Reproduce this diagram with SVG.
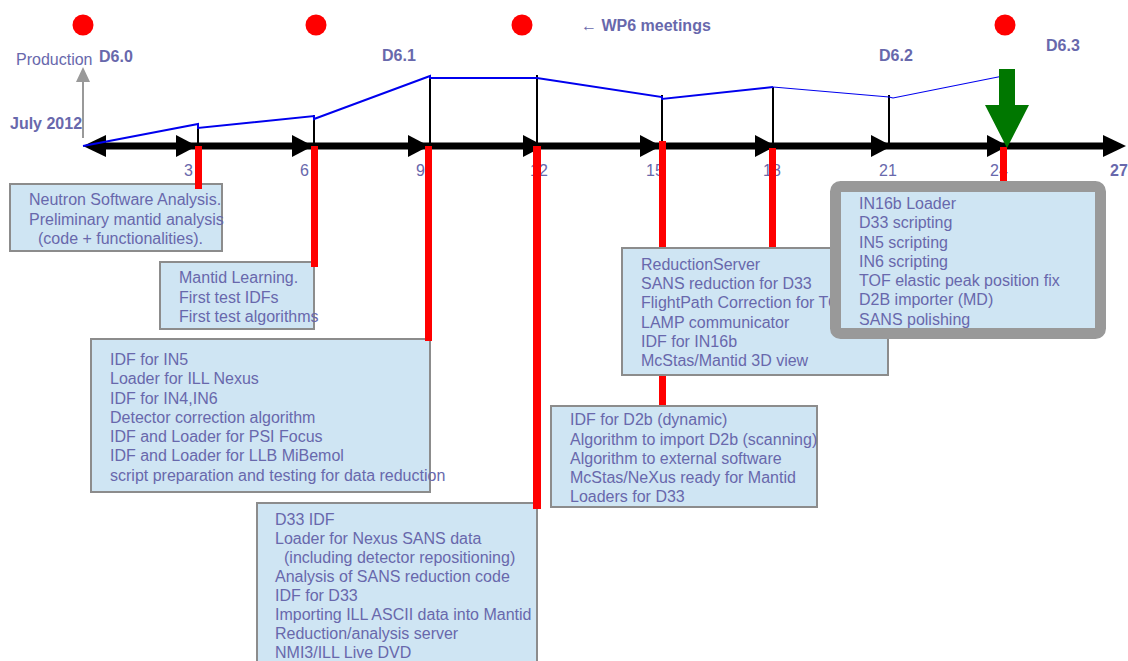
<svg xmlns="http://www.w3.org/2000/svg" width="1128" height="661" viewBox="0 0 1128 661">
<style>
text{font-family:"Liberation Sans",Arial,sans-serif;font-size:16px;fill:#6868ac}
.b{font-weight:bold}
.box{fill:#cfe5f3;stroke:#8c8c8c;stroke-width:2}
.bar{fill:#ff0000}
.tick{stroke:#000;stroke-width:2}
.blue{stroke:#0000ee;stroke-width:2;fill:none}
.blue1{stroke:#0000ee;stroke-width:1.2;fill:none}
.ah{fill:#000}
</style>
<rect width="1128" height="661" fill="#fff"/>
<g id="meetings">
<circle cx="83" cy="25" r="10.5" fill="#ff0000"/>
<circle cx="316" cy="25" r="10.5" fill="#ff0000"/>
<circle cx="522" cy="25" r="10.5" fill="#ff0000"/>
<circle cx="1005" cy="25" r="10.5" fill="#ff0000"/>
<text x="581" y="31" class="b">← WP6 meetings</text>
</g>
<g id="labels">
<text x="16" y="65">Production</text>
<text x="99" y="62" class="b">D6.0</text>
<text x="10" y="129" class="b">July 2012</text>
<text x="382" y="61" class="b">D6.1</text>
<text x="879" y="61" class="b">D6.2</text>
<text x="1046" y="51" class="b">D6.3</text>
<text x="184" y="176">3</text>
<text x="300" y="176">6</text>
<text x="416" y="176">9</text>
<text x="530" y="176">12</text>
<text x="646" y="176">15</text>
<text x="763" y="176">18</text>
<text x="879" y="176">21</text>
<text x="990" y="176">24</text>
<text x="1110" y="176" class="b">27</text>
</g>
<g id="connectors">
<line x1="83" y1="138" x2="83" y2="80" stroke="#999" stroke-width="2"/>
<polygon points="76,82 90,82 83,67" fill="#999"/>
<line class="tick" x1="198" y1="124" x2="198" y2="146"/>
<line class="tick" x1="314" y1="115" x2="314" y2="146"/>
<line class="tick" x1="430" y1="76" x2="430" y2="146"/>
<line class="tick" x1="537" y1="75" x2="537" y2="146"/>
<line class="tick" x1="662" y1="95" x2="662" y2="146"/>
<line class="tick" x1="773" y1="87" x2="773" y2="146"/>
<line class="tick" x1="889" y1="95" x2="889" y2="146"/>
<line x1="95" y1="146" x2="1105" y2="146" stroke="#000" stroke-width="7"/>
<polygon class="ah" points="83,146 106,135 106,157"/>
<polygon class="ah" points="197,146 176,135 176,157"/>
<polygon class="ah" points="313,146 292,135 292,157"/>
<polygon class="ah" points="429,146 408,135 408,157"/>
<polygon class="ah" points="544,146 523,135 523,157"/>
<polygon class="ah" points="661,146 640,135 640,157"/>
<polygon class="ah" points="776,146 755,135 755,157"/>
<polygon class="ah" points="892,146 871,135 871,157"/>
<polygon class="ah" points="1008,146 987,135 987,157"/>
<polygon class="ah" points="1126,146 1103,135 1103,157"/>
<polyline class="blue" points="83,146 198,124 198,128 314,116 314,119 430,76 430,78 537,78 662,97 662,99 773,87"/>
<polyline class="blue1" points="773,87 889,97 893,98 1008,75"/>
</g>
<g id="box1"><rect class="box" x="10" y="184" width="212" height="67"/>
<text x="29" y="205">Neutron Software Analysis.</text>
<text x="29" y="225">Preliminary mantid analysis</text>
<text x="38" y="244">(code + functionalities).</text></g>
<g id="box2"><rect class="box" x="160" y="262" width="154" height="67"/>
<text x="179" y="283">Mantid Learning.</text>
<text x="179" y="303">First test IDFs</text>
<text x="179" y="322">First test algorithms</text></g>
<g id="box3"><rect class="box" x="91" y="339" width="339" height="153"/>
<text x="110" y="365">IDF for IN5</text>
<text x="110" y="384">Loader for ILL Nexus</text>
<text x="110" y="404">IDF for IN4,IN6</text>
<text x="110" y="423">Detector correction algorithm</text>
<text x="110" y="442">IDF and Loader for PSI Focus</text>
<text x="110" y="461">IDF and Loader for LLB MiBemol</text>
<text x="110" y="481">script preparation and testing for data reduction</text></g>
<g id="box4"><rect class="box" x="257" y="503" width="280" height="170"/>
<text x="275" y="525">D33 IDF</text>
<text x="275" y="544">Loader for Nexus SANS data</text>
<text x="284" y="563">(including detector repositioning)</text>
<text x="275" y="582">Analysis of SANS reduction code</text>
<text x="275" y="601">IDF for D33</text>
<text x="275" y="620">Importing ILL ASCII data into Mantid</text>
<text x="275" y="639">Reduction/analysis server</text>
<text x="275" y="658">NMI3/ILL Live DVD</text></g>
<g id="box5"><rect class="box" x="622" y="248" width="266" height="127"/>
<text x="641" y="270">ReductionServer</text>
<text x="641" y="289">SANS reduction for D33</text>
<text x="641" y="308">FlightPath Correction for TOF</text>
<text x="641" y="328">LAMP communicator</text>
<text x="641" y="347">IDF for IN16b</text>
<text x="641" y="366">McStas/Mantid 3D view</text></g>
<g id="box6"><rect class="box" x="551" y="406" width="266" height="101"/>
<text x="570" y="425">IDF for D2b (dynamic)</text>
<text x="570" y="445">Algorithm to import D2b (scanning)</text>
<text x="570" y="464">Algorithm to external software</text>
<text x="570" y="483">McStas/NeXus ready for Mantid</text>
<text x="570" y="502">Loaders for D33</text></g>
<g id="bars">
<rect class="bar" x="195" y="146" width="7" height="43"/>
<rect class="bar" x="311" y="146" width="7" height="121"/>
<rect class="bar" x="425" y="146" width="7" height="195"/>
<rect class="bar" x="533" y="146" width="8" height="363"/>
<rect class="bar" x="659" y="141" width="7" height="106"/>
<rect class="bar" x="659" y="376" width="7" height="29"/>
<rect class="bar" x="769" y="148" width="7" height="99"/>
<rect class="bar" x="1000" y="147" width="7" height="36"/>
</g>
<g id="box7"><rect x="835.5" y="186.5" width="265" height="147" rx="5" fill="#cfe5f3" stroke="#999" stroke-width="11"/>
<text x="859" y="209">IN16b Loader</text>
<text x="859" y="228">D33 scripting</text>
<text x="859" y="248">IN5 scripting</text>
<text x="859" y="267">IN6 scripting</text>
<text x="859" y="286">TOF elastic peak position fix</text>
<text x="859" y="305">D2B importer (MD)</text>
<text x="859" y="325">SANS polishing</text></g>
<g id="green-arrow"><polygon points="999,69 1015,69 1015,105 1029,105 1007,148 985,105 999,105" fill="#007700"/></g>
</svg>
